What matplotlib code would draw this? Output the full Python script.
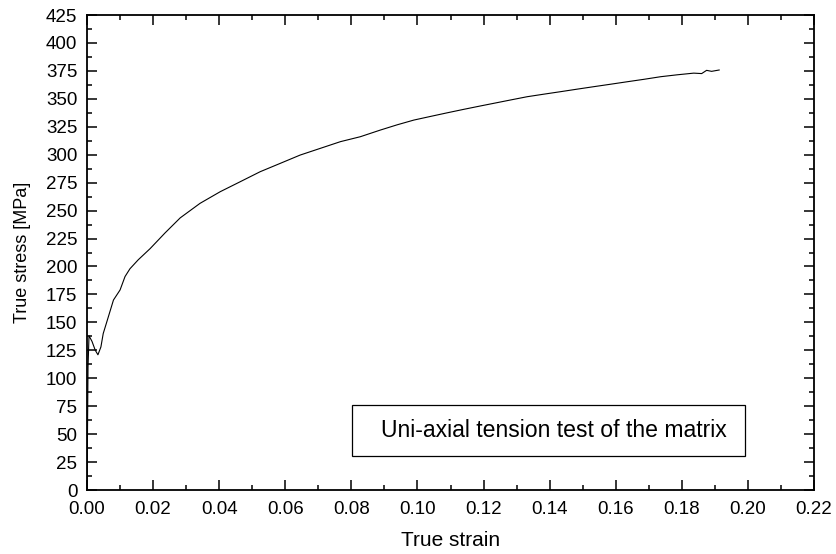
import matplotlib.pyplot as plt
from matplotlib.patches import Rectangle
from matplotlib.ticker import MultipleLocator

plt.rcParams['font.family'] = ['Liberation Sans', 'DejaVu Sans']

# true strain / true stress [MPa] of the matrix tension test
strain = [0.0, 0.0003, 0.0006, 0.0015, 0.0025, 0.0033, 0.0042, 0.0049, 0.006,
          0.008, 0.010, 0.0115, 0.013, 0.0155, 0.0191, 0.0236, 0.0282, 0.0342,
          0.0403, 0.0464, 0.0524, 0.0585, 0.0645, 0.0706, 0.0767, 0.0827,
          0.0888, 0.0939, 0.0989, 0.104, 0.109, 0.114, 0.119, 0.1231, 0.1282,
          0.1332, 0.1383, 0.1433, 0.1484, 0.1534, 0.1585, 0.1635, 0.1686,
          0.1736, 0.1786, 0.1836, 0.1860, 0.1875, 0.1890, 0.1913]
stress = [0, 110, 138, 133, 125, 121, 128, 140, 150.6,
          170, 179, 191, 198, 206, 216, 230, 243.5, 256.5,
          266.9, 275.9, 284.8, 292.3, 299.7, 305.7, 311.7, 316.1,
          322.1, 326.8, 331, 334.3, 337.5, 340.6, 343.6, 346, 349,
          351.9, 354.2, 356.4, 358.7, 360.9, 363.1, 365.3, 367.5,
          369.8, 371.5, 373, 372.6, 375.5, 374.6, 375.8]

label = "Uni-axial tension test of the matrix"

fig = plt.figure(figsize=(8.36, 5.54), dpi=100)
ax = fig.add_axes([0.1041, 0.1155, 0.8696, 0.8574])

ax.plot(strain, stress, color='black', linewidth=0.8)

ax.set_xlim(0, 0.22)
ax.set_ylim(0, 425)
ax.xaxis.set_major_locator(MultipleLocator(0.02))
ax.xaxis.set_minor_locator(MultipleLocator(0.01))
ax.yaxis.set_major_locator(MultipleLocator(25))
ax.yaxis.set_minor_locator(MultipleLocator(12.5))
ax.xaxis.set_major_formatter(plt.FormatStrFormatter('%.2f'))

ax.tick_params(which='both', direction='in', top=True, right=True,
               labelsize=13.5, width=1.1, colors='black')
ax.tick_params(which='major', length=7)
ax.tick_params(which='minor', length=3.5)
ax.tick_params(axis='x', pad=8)
ax.tick_params(axis='y', pad=7)
for sp in ax.spines.values():
    sp.set_linewidth(1.3)

ax.set_xlabel("True strain", fontsize=15, labelpad=9)
ax.set_ylabel("True stress [MPa]", fontsize=13, labelpad=11)

# boxed annotation
ax.add_patch(Rectangle((0.365, 0.0716), 0.54, 0.107, transform=ax.transAxes,
                       fill=False, edgecolor='black', linewidth=0.9))
ax.text(0.6426, 0.126, label, transform=ax.transAxes, ha='center',
        va='center', fontsize=16.6)

fig.savefig("out.png", dpi=100)
